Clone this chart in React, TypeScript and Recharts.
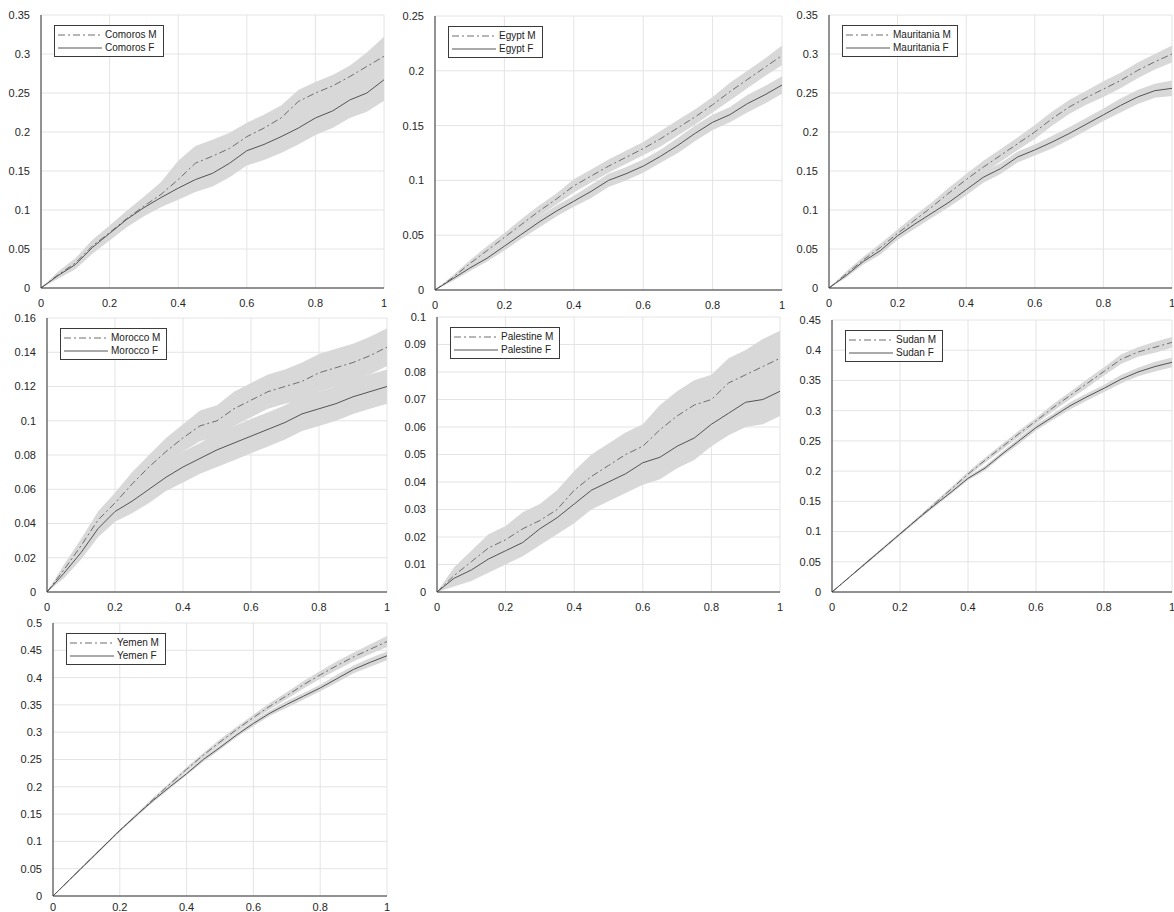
import { ComposedChart, Line, Area, XAxis, YAxis, CartesianGrid, Legend } from 'recharts';

// x positions shared by every panel
const xs = [0, 0.05, 0.1, 0.15, 0.2, 0.25, 0.3, 0.35, 0.4, 0.45, 0.5, 0.55, 0.6, 0.65, 0.7, 0.75, 0.8, 0.85, 0.9, 0.95, 1];

// Comoros
const comorosM = [0, 0.017, 0.032, 0.054, 0.071, 0.089, 0.105, 0.12, 0.139, 0.16, 0.169, 0.179, 0.194, 0.205, 0.218, 0.239, 0.25, 0.259, 0.271, 0.284, 0.297];
const comorosF = [0, 0.016, 0.03, 0.052, 0.07, 0.088, 0.103, 0.116, 0.128, 0.139, 0.147, 0.16, 0.176, 0.184, 0.194, 0.205, 0.218, 0.227, 0.241, 0.25, 0.267];
const comorosMBand = [0, 0.004, 0.006, 0.008, 0.009, 0.01, 0.012, 0.016, 0.024, 0.022, 0.021, 0.02, 0.018, 0.017, 0.016, 0.015, 0.014, 0.014, 0.014, 0.018, 0.025];
const comorosFBand = [0, 0.004, 0.006, 0.008, 0.009, 0.01, 0.011, 0.012, 0.015, 0.016, 0.017, 0.018, 0.019, 0.02, 0.021, 0.021, 0.022, 0.022, 0.023, 0.024, 0.027];

// Egypt
const egyptM = [0, 0.011, 0.024, 0.036, 0.048, 0.06, 0.072, 0.083, 0.095, 0.104, 0.113, 0.121, 0.129, 0.138, 0.148, 0.158, 0.169, 0.181, 0.192, 0.203, 0.214];
const egyptF = [0, 0.01, 0.02, 0.029, 0.04, 0.051, 0.062, 0.072, 0.081, 0.09, 0.1, 0.106, 0.113, 0.122, 0.132, 0.143, 0.153, 0.16, 0.17, 0.178, 0.187];
const egyptMBand = [0, 0.002, 0.003, 0.004, 0.004, 0.005, 0.005, 0.005, 0.006, 0.006, 0.006, 0.006, 0.006, 0.007, 0.007, 0.007, 0.007, 0.008, 0.008, 0.008, 0.009];
const egyptFBand = [0, 0.002, 0.003, 0.003, 0.004, 0.004, 0.005, 0.005, 0.005, 0.006, 0.006, 0.006, 0.006, 0.006, 0.007, 0.007, 0.007, 0.007, 0.008, 0.008, 0.008];

// Mauritania
const mauritaniaM = [0, 0.018, 0.036, 0.052, 0.07, 0.087, 0.104, 0.122, 0.139, 0.155, 0.17, 0.185, 0.2, 0.217, 0.232, 0.244, 0.255, 0.266, 0.279, 0.29, 0.3];
const mauritaniaF = [0, 0.016, 0.034, 0.048, 0.067, 0.082, 0.096, 0.11, 0.126, 0.142, 0.153, 0.168, 0.177, 0.187, 0.198, 0.21, 0.222, 0.234, 0.245, 0.253, 0.256];
const mauritaniaMBand = [0, 0.003, 0.004, 0.005, 0.005, 0.006, 0.006, 0.007, 0.007, 0.008, 0.008, 0.008, 0.009, 0.009, 0.009, 0.009, 0.01, 0.01, 0.01, 0.01, 0.011];
const mauritaniaFBand = [0, 0.003, 0.004, 0.005, 0.005, 0.006, 0.006, 0.006, 0.007, 0.007, 0.007, 0.007, 0.007, 0.008, 0.008, 0.008, 0.008, 0.009, 0.009, 0.009, 0.01];

// Morocco
const moroccoM = [0, 0.013, 0.027, 0.042, 0.052, 0.063, 0.073, 0.082, 0.09, 0.097, 0.1, 0.107, 0.112, 0.117, 0.12, 0.123, 0.128, 0.131, 0.134, 0.138, 0.143];
const moroccoF = [0, 0.011, 0.023, 0.037, 0.047, 0.053, 0.06, 0.067, 0.073, 0.078, 0.083, 0.087, 0.091, 0.095, 0.099, 0.104, 0.107, 0.11, 0.114, 0.117, 0.12];
const moroccoMBand = [0, 0.003, 0.004, 0.005, 0.006, 0.007, 0.007, 0.008, 0.008, 0.009, 0.009, 0.01, 0.01, 0.01, 0.01, 0.011, 0.011, 0.011, 0.011, 0.011, 0.011];
const moroccoFBand = [0, 0.003, 0.004, 0.005, 0.006, 0.007, 0.008, 0.008, 0.009, 0.009, 0.01, 0.01, 0.01, 0.01, 0.01, 0.01, 0.01, 0.01, 0.01, 0.01, 0.01];

// Palestine
const palestineM = [0, 0.006, 0.011, 0.016, 0.019, 0.023, 0.026, 0.03, 0.037, 0.042, 0.046, 0.05, 0.053, 0.059, 0.064, 0.068, 0.07, 0.076, 0.079, 0.082, 0.085];
const palestineF = [0, 0.005, 0.008, 0.012, 0.015, 0.018, 0.023, 0.027, 0.032, 0.037, 0.04, 0.043, 0.047, 0.049, 0.053, 0.056, 0.061, 0.065, 0.069, 0.07, 0.073];
const palestineMBand = [0, 0.003, 0.004, 0.005, 0.005, 0.006, 0.006, 0.007, 0.007, 0.008, 0.008, 0.008, 0.008, 0.009, 0.009, 0.009, 0.009, 0.009, 0.009, 0.01, 0.01];
const palestineFBand = [0, 0.003, 0.004, 0.005, 0.005, 0.005, 0.006, 0.006, 0.007, 0.007, 0.007, 0.007, 0.008, 0.008, 0.008, 0.008, 0.008, 0.008, 0.009, 0.009, 0.009];

// Sudan
const sudanM = [0, 0.024, 0.048, 0.072, 0.096, 0.12, 0.145, 0.17, 0.195, 0.218, 0.24, 0.262, 0.283, 0.305, 0.325, 0.345, 0.365, 0.385, 0.397, 0.405, 0.413];
const sudanF = [0, 0.024, 0.048, 0.072, 0.096, 0.12, 0.143, 0.165, 0.188, 0.205, 0.228, 0.25, 0.272, 0.29, 0.308, 0.323, 0.337, 0.352, 0.364, 0.373, 0.38];
const sudanMBand = [0, 0.001, 0.002, 0.002, 0.002, 0.003, 0.003, 0.003, 0.004, 0.004, 0.005, 0.005, 0.005, 0.006, 0.006, 0.007, 0.007, 0.008, 0.008, 0.009, 0.009];
const sudanFBand = [0, 0.001, 0.002, 0.002, 0.002, 0.002, 0.003, 0.003, 0.003, 0.004, 0.004, 0.005, 0.005, 0.005, 0.006, 0.006, 0.006, 0.007, 0.007, 0.008, 0.008];

// Yemen
const yemenM = [0, 0.03, 0.06, 0.09, 0.12, 0.148, 0.177, 0.205, 0.232, 0.258, 0.282, 0.305, 0.327, 0.348, 0.367, 0.387, 0.405, 0.422, 0.438, 0.452, 0.466];
const yemenF = [0, 0.03, 0.06, 0.09, 0.12, 0.148, 0.175, 0.2, 0.224, 0.25, 0.272, 0.295, 0.316, 0.335, 0.351, 0.366, 0.381, 0.398, 0.415, 0.428, 0.44];
const yemenMBand = [0, 0.001, 0.002, 0.002, 0.002, 0.003, 0.003, 0.003, 0.004, 0.004, 0.005, 0.005, 0.005, 0.006, 0.006, 0.007, 0.007, 0.008, 0.008, 0.009, 0.01];
const yemenFBand = [0, 0.001, 0.002, 0.002, 0.002, 0.002, 0.003, 0.003, 0.003, 0.004, 0.004, 0.004, 0.005, 0.005, 0.006, 0.006, 0.006, 0.007, 0.007, 0.008, 0.008];

// tick labels
const xTicks = [0, 0.2, 0.4, 0.6, 0.8, 1];
const yTicks35 = [0, 0.05, 0.1, 0.15, 0.2, 0.25, 0.3, 0.35];
const yTicks25 = [0, 0.05, 0.1, 0.15, 0.2, 0.25];
const yTicks16 = [0, 0.02, 0.04, 0.06, 0.08, 0.1, 0.12, 0.14, 0.16];
const yTicks10 = [0, 0.01, 0.02, 0.03, 0.04, 0.05, 0.06, 0.07, 0.08, 0.09, 0.1];
const yTicks45 = [0, 0.05, 0.1, 0.15, 0.2, 0.25, 0.3, 0.35, 0.4, 0.45];
const yTicks50 = [0, 0.05, 0.1, 0.15, 0.2, 0.25, 0.3, 0.35, 0.4, 0.45, 0.5];

const FONT = '"Liberation Sans", Arial, Helvetica, sans-serif';
const M_DASH = '7 3 2 3';
const M_COLOR = '#6e6e6e';
const F_COLOR = '#545454';
const BAND = '#d8d8d8';
const Y_W = 40;
const X_H = 22;
const PAD_T = 8;
const PAD_R = 8;

interface Panel {
  name: string;
  m: number[];
  f: number[];
  mBand: number[];
  fBand: number[];
  yTicks: number[];
  // plot area edges on the page
  left: number;
  top: number;
  right: number;
  bottom: number;
  xTickGap: number;
}

const panels: Panel[] = [
  { name: 'Comoros', m: comorosM, f: comorosF, mBand: comorosMBand, fBand: comorosFBand, yTicks: yTicks35, left: 41, top: 15, right: 384, bottom: 288, xTickGap: 5 },
  { name: 'Egypt', m: egyptM, f: egyptF, mBand: egyptMBand, fBand: egyptFBand, yTicks: yTicks25, left: 435, top: 16, right: 782, bottom: 290, xTickGap: 5 },
  { name: 'Mauritania', m: mauritaniaM, f: mauritaniaF, mBand: mauritaniaMBand, fBand: mauritaniaFBand, yTicks: yTicks35, left: 829, top: 15, right: 1172, bottom: 288, xTickGap: 5 },
  { name: 'Morocco', m: moroccoM, f: moroccoF, mBand: moroccoMBand, fBand: moroccoFBand, yTicks: yTicks16, left: 47, top: 318, right: 387, bottom: 592, xTickGap: 5 },
  { name: 'Palestine', m: palestineM, f: palestineF, mBand: palestineMBand, fBand: palestineFBand, yTicks: yTicks10, left: 437, top: 317, right: 780, bottom: 592, xTickGap: 5 },
  { name: 'Sudan', m: sudanM, f: sudanF, mBand: sudanMBand, fBand: sudanFBand, yTicks: yTicks45, left: 832, top: 320, right: 1172, bottom: 592, xTickGap: 5 },
  { name: 'Yemen', m: yemenM, f: yemenF, mBand: yemenMBand, fBand: yemenFBand, yTicks: yTicks50, left: 53, top: 623, right: 387, bottom: 896, xTickGap: 1 },
];

function buildRows(p: Panel) {
  return xs.map((x, i) => ({
    x,
    m: p.m[i],
    f: p.f[i],
    mRange: [Math.max(0, p.m[i] - p.mBand[i]), p.m[i] + p.mBand[i]],
    fRange: [Math.max(0, p.f[i] - p.fBand[i]), p.f[i] + p.fBand[i]],
  }));
}

function LegendBox({ name }: { name: string }) {
  const rows = [
    { label: `${name} M`, dash: M_DASH, color: M_COLOR },
    { label: `${name} F`, dash: undefined, color: F_COLOR },
  ];
  return (
    <div
      style={{
        background: '#fff',
        border: '1px solid #3a3a3a',
        padding: '2px 6px 2px 3px',
        fontFamily: FONT,
        fontSize: 10,
        color: '#222',
        lineHeight: '13px',
        whiteSpace: 'nowrap',
      }}
    >
      {rows.map((r) => (
        <div key={r.label} style={{ display: 'flex', alignItems: 'center' }}>
          <svg width={44} height={8} style={{ marginRight: 3 }}>
            <line x1={0} y1={4} x2={44} y2={4} stroke={r.color} strokeWidth={1} strokeDasharray={r.dash} />
          </svg>
          <span>{r.label}</span>
        </div>
      ))}
    </div>
  );
}

function SurvivalPanel({ p }: { p: Panel }) {
  const rows = buildRows(p);
  const w = p.right - p.left + Y_W + PAD_R;
  const h = p.bottom - p.top + PAD_T + X_H;
  const yMax = p.yTicks[p.yTicks.length - 1];
  const tickStyle = { fontSize: 11, fill: '#262626', fontFamily: FONT };
  return (
    <div style={{ position: 'absolute', left: p.left - Y_W, top: p.top - PAD_T }}>
      <ComposedChart width={w} height={h} data={rows} margin={{ top: PAD_T, right: PAD_R, bottom: 0, left: 0 }}>
        <CartesianGrid stroke="#e4e4e4" />
        <XAxis
          type="number"
          dataKey="x"
          domain={[0, 1]}
          ticks={xTicks}
          interval={0}
          height={X_H}
          tickLine={false}
          tickMargin={p.xTickGap}
          axisLine={{ stroke: '#333' }}
          tick={tickStyle}
          allowDataOverflow
        />
        <YAxis
          type="number"
          domain={[0, yMax]}
          ticks={p.yTicks}
          interval={0}
          width={Y_W}
          tickLine={false}
          tickMargin={5}
          axisLine={{ stroke: '#333' }}
          tick={tickStyle}
          allowDataOverflow
        />
        <Area dataKey="mRange" type="linear" stroke="none" fill={BAND} fillOpacity={1} legendType="none" isAnimationActive={false} />
        <Area dataKey="fRange" type="linear" stroke="none" fill={BAND} fillOpacity={1} legendType="none" isAnimationActive={false} />
        <Line dataKey="m" name={`${p.name} M`} type="linear" stroke={M_COLOR} strokeWidth={1} strokeDasharray={M_DASH} dot={false} isAnimationActive={false} />
        <Line dataKey="f" name={`${p.name} F`} type="linear" stroke={F_COLOR} strokeWidth={1} dot={false} isAnimationActive={false} />
        <Legend
          layout="vertical"
          align="center"
          verticalAlign="middle"
          wrapperStyle={{ left: Y_W + 13, top: PAD_T + 10, width: 'auto' }}
          content={() => <LegendBox name={p.name} />}
        />
      </ComposedChart>
    </div>
  );
}

export default function App() {
  return (
    <div style={{ position: 'absolute', left: 0, top: 0, width: 1174, height: 912, overflow: 'hidden', background: '#fff' }}>
      {panels.map((p) => (
        <SurvivalPanel key={p.name} p={p} />
      ))}
    </div>
  );
}
